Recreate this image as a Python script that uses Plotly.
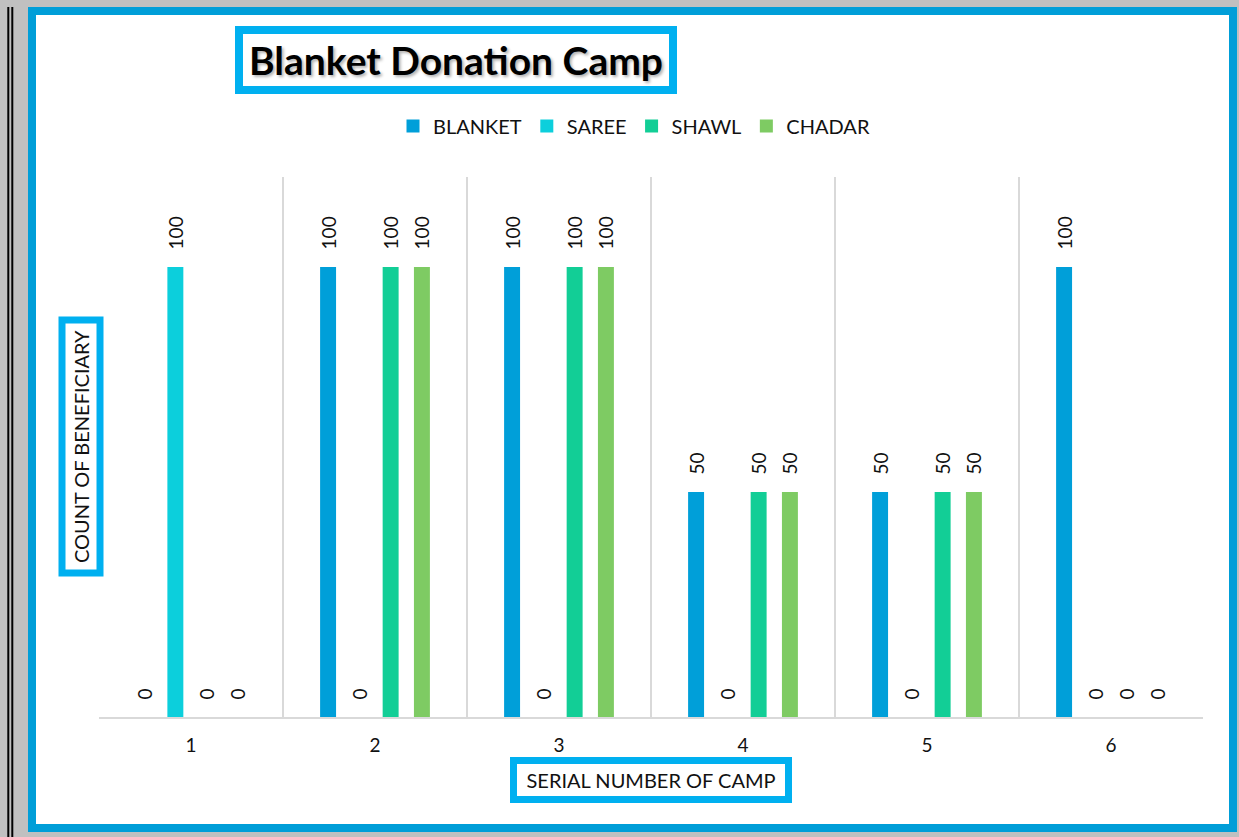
import plotly.graph_objects as go

camps = ["1", "2", "3", "4", "5", "6"]
blanket = [0, 100, 100, 50, 50, 100]
saree = [100, 0, 0, 0, 0, 0]
shawl = [0, 100, 100, 50, 50, 0]
chadar = [0, 100, 100, 50, 50, 0]

series = [
    ("BLANKET", blanket, "#009fd9"),
    ("SAREE", saree, "#0ccfdc"),
    ("SHAWL", shawl, "#12ce96"),
    ("CHADAR", chadar, "#7ecb63"),
]

FONT = "Lato"
W, H = 1239, 837
L, R, T, B = 99, 36, 177, 120

fig = go.Figure()
for name, vals, col in series:
    fig.add_trace(go.Bar(
        name=name, x=camps, y=vals, marker=dict(color=col, line=dict(width=0)),
        texttemplate="\u00a0\u00a0\u00a0%{y}", textposition="outside", textangle=-90,
        constraintext="none", cliponaxis=False, showlegend=False, legendgroup=name,
        textfont=dict(family=FONT, size=19, color="#111111"),
    ))
for name, vals, col in series:
    fig.add_trace(go.Scatter(
        name=name, x=[None], y=[None], mode="markers", legendgroup=name,
        marker=dict(symbol="square", size=13, color=col), showlegend=True,
    ))

BORDER = "#00b0f0"
anns = [
    dict(text="<b>Blanket Donation Camp</b>", x=(456 - L) / (W - L - R), y=(H - B - 60) / (H - T - B),
         xref="paper", yref="paper", xanchor="center", yanchor="middle", showarrow=False,
         font=dict(family=FONT, size=39, color="#000000", shadow="2px 2px 3px rgba(0,0,0,0.3)"),
         bgcolor="white", bordercolor=BORDER, borderwidth=8, borderpad=0, width=426, height=52),
    dict(text="COUNT OF BENEFICIARY", x=(80.5 - L) / (W - L - R), y=0.5, xref="paper", yref="paper",
         xanchor="center", yanchor="middle", showarrow=False, textangle=-90,
         font=dict(family=FONT, size=20, color="#111111"),
         bgcolor="white", bordercolor=BORDER, borderwidth=7, borderpad=0, width=246, height=31),
    dict(text="SERIAL NUMBER OF CAMP", x=0.5, y=(H - B - 780) / (H - T - B), xref="paper", yref="paper",
         xanchor="center", yanchor="middle", showarrow=False,
         font=dict(family=FONT, size=20, color="#111111"),
         bgcolor="white", bordercolor=BORDER, borderwidth=7, borderpad=0, width=268, height=32),
]

shapes = [
    dict(type="rect", xref="paper", yref="paper", xsizemode="pixel", ysizemode="pixel",
         xanchor=0, yanchor=0, x0=32 - L, x1=1233 - L, y0=(H - B) - 828, y1=(H - B) - 11,
         fillcolor="white", line=dict(color="#009ed8", width=8), layer="below"),
    dict(type="line", xref="paper", yref="paper", xsizemode="pixel", ysizemode="pixel",
         xanchor=0, yanchor=0, x0=8.3 - L, x1=8.3 - L, y0=(H - B) - H, y1=(H - B) - 7,
         line=dict(color="black", width=2), layer="below"),
    dict(type="line", xref="paper", yref="paper", xsizemode="pixel", ysizemode="pixel",
         xanchor=0, yanchor=0, x0=12.3 - L, x1=12.3 - L, y0=(H - B) - H, y1=(H - B) - 7,
         line=dict(color="black", width=2), layer="below"),
]

fig.update_layout(
    width=W, height=H, autosize=False,
    margin=dict(l=L, r=R, t=T, b=B, pad=0),
    paper_bgcolor="#c0c0c0", plot_bgcolor="rgba(0,0,0,0)",
    barmode="group", bargap=0.32, bargroupgap=0.49,
    font=dict(family=FONT, size=19, color="#111111"),
    showlegend=True,
    legend=dict(orientation="h", x=(634 - L) / (W - L - R), y=(H - B - 126) / (H - T - B),
                xanchor="center", yanchor="middle", bgcolor="rgba(0,0,0,0)",
                font=dict(family=FONT, size=20, color="#111111"), traceorder="normal",
                itemclick=False, itemdoubleclick=False),
    annotations=anns, shapes=shapes,
    xaxis=dict(type="category", range=[-0.5, 5.5], tickson="boundaries", ticks="",
               showgrid=True, gridcolor="#d9d9d9", gridwidth=2,
               showline=True, linecolor="#d9d9d9", linewidth=2, ticklabelstandoff=10,
               tickfont=dict(family=FONT, size=19, color="#111111"), zeroline=False),
    yaxis=dict(range=[0, 120], showgrid=False, showticklabels=False, zeroline=False,
               showline=False, ticks=""),
)

fig.write_html("out.html", config={"displayModeBar": False},
               post_script="document.body.style.margin='0';document.body.style.overflow='hidden';")
